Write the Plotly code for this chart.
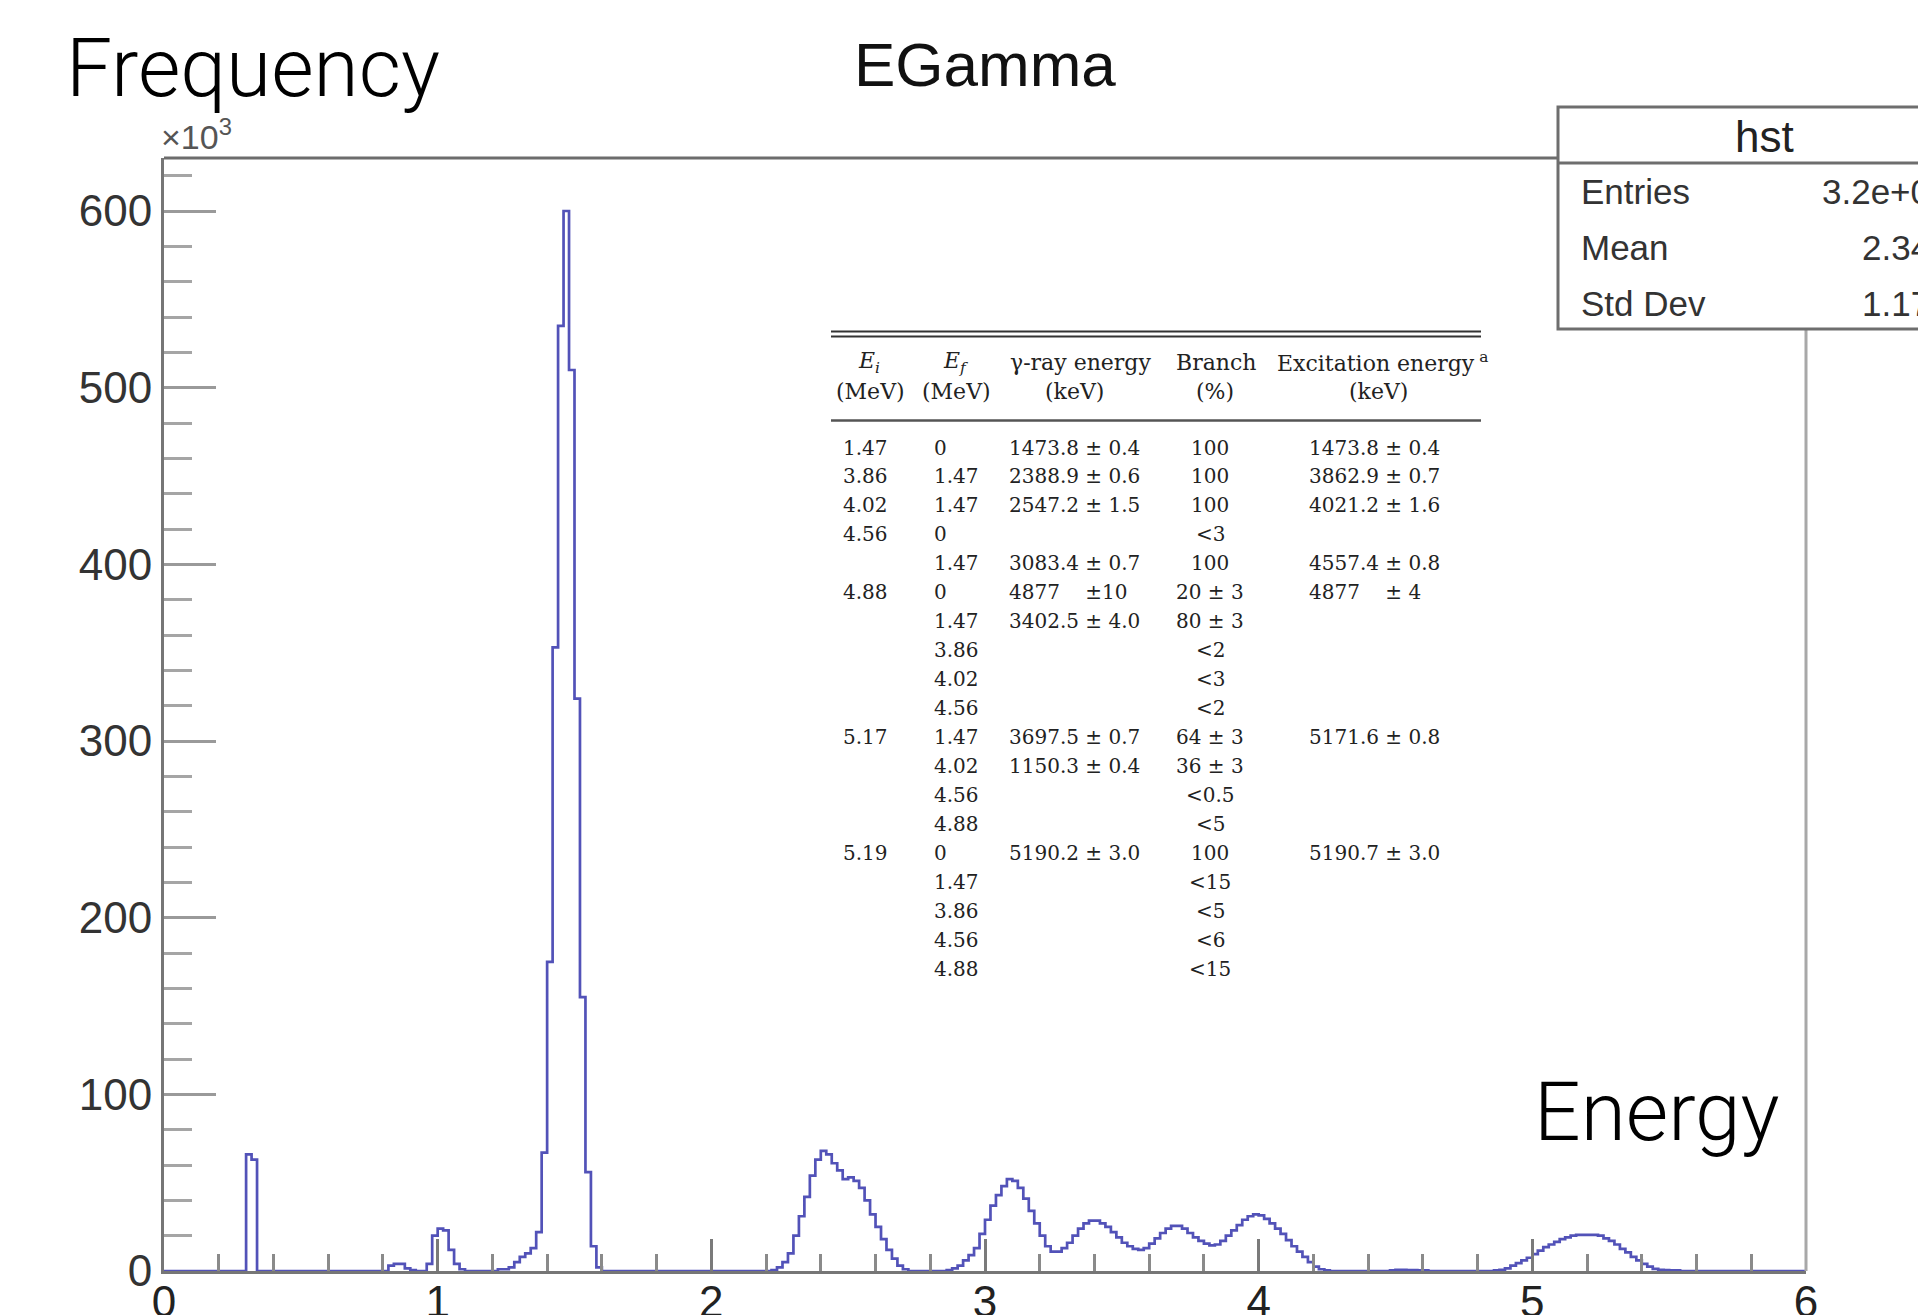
import plotly.graph_objects as go

# ---------------- data ----------------
BIN_WIDTH = 0.02
X_MIN, X_MAX = 0.0, 6.0
Y_MAX = 630            # axis maximum, in units of 10^3 counts

# Histogram "hst" (EGamma): bin contents in units of 10^3, as runs of consecutive bins
spike_start = 0.30
spike_counts = [66, 63]

low_bump_start = 0.82
low_bump_counts = [3, 4, 4, 1.5, 0.5]

bump_1000_start = 0.96
bump_1000_counts = [4, 20, 24, 23, 12, 4, 1]

main_peak_start = 1.22
main_peak_counts = [1, 1, 2, 5, 8, 10, 13, 22, 67, 175, 353, 535, 600, 510, 324, 155, 56, 14, 2]

bump_2400_start = 2.22
bump_2400_counts = [0.5, 2, 5, 10, 20, 31, 42, 54, 63, 68, 66, 61, 57, 52, 53, 51, 47, 40,
                    32, 25, 18, 12, 7, 3, 1]

multiplet_start = 2.86
multiplet_counts = [0.5, 1.5, 3, 6, 9, 13, 21, 29, 37, 43, 48, 52, 51, 47, 41, 34, 27, 20, 14,
                    11, 11, 13, 16, 20, 24, 27, 28.5, 28.5, 27, 25, 22, 19, 16, 14, 12.5, 12,
                    13, 15.5, 18.5, 21.5, 24, 25.5, 25.5, 24, 21.5, 19, 17, 15.5, 14.5, 15, 17,
                    20, 23, 26, 29, 31, 32, 31.5, 29.5, 27, 24, 21, 17.5, 14, 11, 8, 5, 2.5,
                    1, 0.3]

tail_start = 4.48
tail_counts = [0.4, 0.6, 0.6, 0.5, 0.5, 0.4, 0.3]

bump_5200_start = 4.86
bump_5200_counts = [0.3, 0.6, 1.5, 3, 4.5, 6, 7.5, 9.5, 11.5, 13.5, 15, 16.5, 18, 19, 20, 20.5,
                    20.5, 20.5, 20.5, 20, 18.5, 17, 15, 12.5, 10.5, 8, 6, 4, 2.5, 1.2, 0.7,
                    0.5, 0.4, 0.3]

x_ticks = [0, 1, 2, 3, 4, 5, 6]
y_ticks = [0, 100, 200, 300, 400, 500, 600]

stats_labels = ["Entries", "Mean", "Std Dev"]
stats_values = ["3.2e+06", "2.343", "1.173"]

# inset table (gamma transitions)
table_header_1 = ["<i>E</i><sub><i>i</i></sub>", "<i>E</i><sub><i>f</i></sub>",
                  "γ-ray energy", "Branch", "Excitation energy<sup> a</sup>"]
table_header_2 = ["(MeV)", "(MeV)", "(keV)", "(%)", "(keV)"]
col_Ei = ["1.47", "3.86", "4.02", "4.56", "", "4.88", "", "", "", "", "5.17", "", "", "",
          "5.19", "", "", "", ""]
col_Ef = ["0", "1.47", "1.47", "0", "1.47", "0", "1.47", "3.86", "4.02", "4.56", "1.47",
          "4.02", "4.56", "4.88", "0", "1.47", "3.86", "4.56", "4.88"]
col_gamma = ["1473.8 ± 0.4", "2388.9 ± 0.6", "2547.2 ± 1.5", "", "3083.4 ± 0.7",
             "4877\u00a0\u00a0\u00a0\u00a0±10", "3402.5 ± 4.0", "", "", "", "3697.5 ± 0.7",
             "1150.3 ± 0.4", "", "", "5190.2 ± 3.0", "", "", "", ""]
col_branch = ["100", "100", "100", "<3", "100", "20 ± 3", "80 ± 3", "<2", "<3", "<2",
              "64 ± 3", "36 ± 3", "<0.5", "<5", "100", "<15", "<5", "<6", "<15"]
col_excit = ["1473.8 ± 0.4", "3862.9 ± 0.7", "4021.2 ± 1.6", "", "4557.4 ± 0.8",
             "4877\u00a0\u00a0\u00a0\u00a0± 4", "", "", "", "", "5171.6 ± 0.8", "", "", "",
             "5190.7 ± 3.0", "", "", "", ""]

# ---------------- build histogram ----------------
n_bins = int(round((X_MAX - X_MIN) / BIN_WIDTH))
counts = [0.0] * n_bins
runs = [(spike_start, spike_counts), (low_bump_start, low_bump_counts),
        (bump_1000_start, bump_1000_counts), (main_peak_start, main_peak_counts),
        (bump_2400_start, bump_2400_counts), (multiplet_start, multiplet_counts),
        (tail_start, tail_counts), (bump_5200_start, bump_5200_counts)]
for start, vals in runs:
    i0 = int(round((start - X_MIN) / BIN_WIDTH))
    for j, v in enumerate(vals):
        counts[i0 + j] = v
edges = [X_MIN + i * BIN_WIDTH for i in range(n_bins + 1)]

# ---------------- layout geometry ----------------
FIG_W, FIG_H = 1918, 1315
M_L, M_R, M_T, M_B = 164, 112, 158, 44
PW = FIG_W - M_L - M_R
PH = FIG_H - M_T - M_B


def px(x):
    return (x - M_L) / PW


def py(y):
    return (FIG_H - M_B - y) / PH


fig = go.Figure()
fig.add_trace(go.Scatter(
    x=edges, y=counts + [counts[-1]], mode="lines", line_shape="hv",
    line=dict(color="#5252b8", width=2.7), hoverinfo="skip", showlegend=False))

AX = "#767676"
fig.update_layout(
    width=FIG_W, height=FIG_H,
    margin=dict(l=M_L, r=M_R, t=M_T, b=M_B, pad=0, autoexpand=False),
    paper_bgcolor="white", plot_bgcolor="white",
    showlegend=False,
    font=dict(family="Liberation Sans, Arial, sans-serif", color="#222"),
    xaxis=dict(range=[X_MIN, X_MAX], tickvals=x_ticks, ticktext=[str(v) for v in x_ticks],
               showgrid=False, zeroline=False, showline=True, linecolor=AX, linewidth=3,
               ticks="inside", ticklen=32, tickwidth=3, tickcolor="#7a7a7a",
               minor=dict(ticks="inside", ticklen=17, tickwidth=3, tickcolor="#8a8a8a",
                          dtick=0.2, tick0=0, showgrid=False),
               tickfont=dict(size=44, color="#222"), ticklabelstandoff=-10,
               fixedrange=True, automargin=False),
    yaxis=dict(range=[0, Y_MAX], tickvals=y_ticks, ticktext=[str(v) for v in y_ticks],
               showgrid=False, zeroline=False, showline=True, linecolor=AX, linewidth=3,
               ticks="inside", ticklen=52, tickwidth=3, tickcolor="#9a9a9a",
               minor=dict(ticks="inside", ticklen=28, tickwidth=3, tickcolor="#a5a5a5",
                          dtick=20, tick0=0, showgrid=False),
               tickfont=dict(size=44, color="#333"), fixedrange=True, automargin=False),
)

shapes = []
# frame: top and right borders
shapes.append(dict(type="line", xref="paper", yref="paper", x0=0, x1=1, y0=1, y1=1,
                   line=dict(color="#6c6c6c", width=3), layer="above"))
shapes.append(dict(type="line", xref="paper", yref="paper", x0=1, x1=1, y0=0, y1=1,
                   line=dict(color="#a8a8a8", width=3), layer="above"))

# stats box
shapes.append(dict(type="rect", xref="paper", yref="paper",
                   x0=px(1558), x1=px(2010), y0=py(329), y1=py(107),
                   fillcolor="white", line=dict(color="#6e6e6e", width=3), layer="above"))
shapes.append(dict(type="line", xref="paper", yref="paper",
                   x0=px(1558), x1=px(2010), y0=py(163), y1=py(163),
                   line=dict(color="#6e6e6e", width=3), layer="above"))

# table rules
for yy, w, c in [(331.5, 2, "#333"), (336.5, 2, "#333"), (420.5, 2.5, "#555")]:
    shapes.append(dict(type="line", xref="paper", yref="paper",
                       x0=px(831), x1=px(1481), y0=py(yy), y1=py(yy),
                       line=dict(color=c, width=w), layer="above"))

annotations = []


def note(text, x, y, size, xanchor="left", family="Liberation Sans, Arial, sans-serif",
         color="#222", weight=None):
    f = dict(size=size, family=family, color=color)
    if weight is not None:
        f["weight"] = weight
    annotations.append(dict(text=text, x=px(x), y=py(y), xref="paper", yref="paper",
                            xanchor=xanchor, yanchor="middle", showarrow=False, font=f))


# titles
note("EGamma", 985, 64, 62, xanchor="center", color="#111")
note("Frequency", 64, 68, 82, family="Roboto, sans-serif", color="#000", weight=300)
note("Energy", 1532, 1112, 82, family="Roboto, sans-serif", color="#000", weight=300)
note("×10<sup>3</sup>", 159, 134, 34, color="#555")

# stats box texts
note("hst", 1764, 136, 44, xanchor="center", color="#222")
for i, (lab, val) in enumerate(zip(stats_labels, stats_values)):
    yy = 192 + i * 56
    note(lab, 1579, yy, 35, color="#333")
    note(val, 1952, yy, 35, xanchor="right", color="#333")

# table
SERIF = "DejaVu Serif, Liberation Serif, serif"
TS = 20
TH = 22
head_x = [869, 955, 1080, 1216, 1382]
for t, xx in zip(table_header_1, head_x):
    note(t, xx, 362, TH, xanchor="center", family=SERIF)
for t, xx in zip(table_header_2, [870, 956, 1074, 1215, 1378]):
    note(t, xx, 391, TH, xanchor="center", family=SERIF)

ROW0, ROW_STEP = 447.5, 28.95
for i in range(len(col_Ef)):
    yy = ROW0 + i * ROW_STEP
    if col_Ei[i]:
        note(col_Ei[i], 841, yy, TS, family=SERIF)
    if col_Ef[i]:
        note(col_Ef[i], 932, yy, TS, family=SERIF)
    if col_gamma[i]:
        note(col_gamma[i], 1007, yy, TS, family=SERIF)
    if col_branch[i]:
        note(col_branch[i], 1210, yy, TS, xanchor="center", family=SERIF)
    if col_excit[i]:
        note(col_excit[i], 1307, yy, TS, family=SERIF)

fig.update_layout(shapes=shapes, annotations=annotations)
fig.write_html("out.html")
